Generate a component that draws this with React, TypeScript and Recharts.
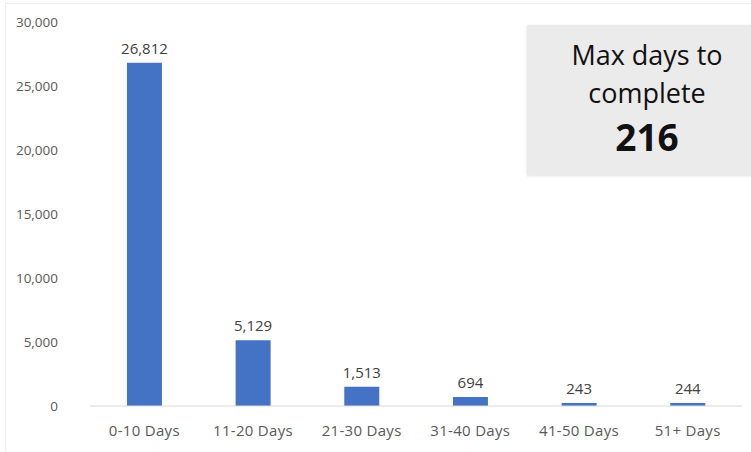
import { BarChart, Bar, XAxis, YAxis, LabelList } from 'recharts';

const categories = ['0-10 Days', '11-20 Days', '21-30 Days', '31-40 Days', '41-50 Days', '51+ Days'];
const counts = [26812, 5129, 1513, 694, 243, 244];
const yTicks = [0, 5000, 10000, 15000, 20000, 25000, 30000];
const maxDays = 216;

const data = categories.map((range, i) => ({ range, count: counts[i] }));

const fmt = (v: number) => v.toLocaleString('en-US');

const font = '"Open Sans", "Noto Sans", sans-serif';

export default function App() {
  return (
    <div style={{ position: 'relative', width: 751, height: 452, background: '#fff', fontFamily: font, overflow: 'hidden' }}>
      <style>{'body{margin:0}'}</style>
      <div
        style={{
          position: 'absolute',
          left: 5,
          top: 3,
          width: 746,
          height: 449,
          borderLeft: '1px solid #ececec',
          borderTop: '1px solid #ececec',
          boxSizing: 'border-box',
        }}
      />
      <BarChart
        width={751}
        height={452}
        data={data}
        margin={{ top: 22, right: 9, bottom: 16, left: 0 }}
        barCategoryGap="34%"
      >
        <XAxis
          dataKey="range"
          height={30}
          axisLine={{ stroke: '#d9d9d9' }}
          tickLine={false}
          tickSize={0}
          tickMargin={19}
          tick={{ fill: '#595959', fontSize: 15, fontFamily: font, letterSpacing: 0.3 }}
          interval={0}
        />
        <YAxis
          width={90}
          domain={[0, 30000]}
          ticks={yTicks}
          axisLine={false}
          tickLine={false}
          tickSize={0}
          tickMargin={32}
          tickFormatter={fmt}
          tick={{ fill: '#595959', fontSize: 13.5, fontFamily: font }}
        />
        <Bar dataKey="count" fill="#4472c4" isAnimationActive={false}>
          <LabelList
            dataKey="count"
            position="top"
            offset={9}
            formatter={(v: number) => fmt(v)}
            style={{ fill: '#404040', fontSize: 15, fontFamily: font }}
          />
        </Bar>
      </BarChart>
      <div
        style={{
          position: 'absolute',
          left: 527,
          top: 25,
          width: 240,
          height: 150,
          background: '#ebebeb',
          boxShadow: '0 1px 3px rgba(0,0,0,0.12)',
          textAlign: 'center',
          color: '#111',
          boxSizing: 'border-box',
          paddingTop: 11,
        }}
      >
        <div style={{ fontSize: 27, lineHeight: '38px' }}>Max days to</div>
        <div style={{ fontSize: 27, lineHeight: '38px' }}>complete</div>
        <div style={{ fontSize: 37, fontWeight: 700, lineHeight: '50px' }}>{maxDays}</div>
      </div>
    </div>
  );
}
